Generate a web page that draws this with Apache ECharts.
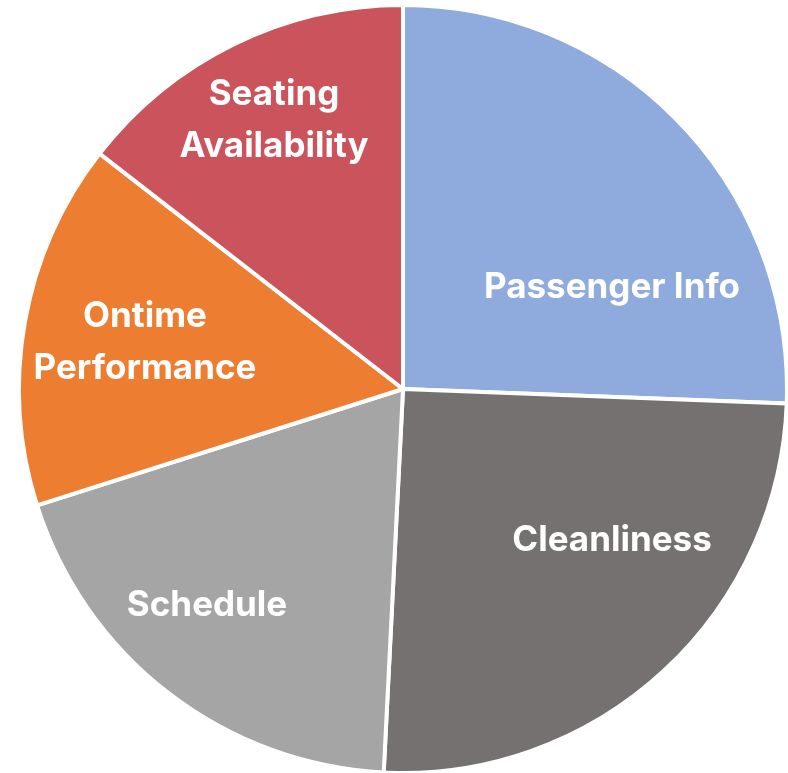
<!DOCTYPE html>
<html>
<head>
<meta charset="utf-8">
<script src="https://cdn.jsdelivr.net/npm/echarts@6/dist/echarts.min.js"></script>
<style>
  html, body { margin: 0; padding: 0; background: #fff; }
  #chart { width: 788px; height: 773px; }
</style>
</head>
<body>
<div id="chart"></div>
<script>
// slice names and shares
var categories = ['Passenger Info', 'Cleanliness', 'Schedule', 'Ontime\nPerformance', 'Seating\nAvailability'];
var values = [25.6, 25.2, 19.3, 15.4, 14.5];
var colors = ['#8FAADC', '#767171', '#A5A5A5', '#ED7D31', '#CB535C'];
// where Excel put each label (centre of the text block)
var labelSpots = [[612, 287], [612, 540], [207, 605], [145, 342], [274, 120]];

var chart = echarts.init(document.getElementById('chart'));

var pieData = [];
for (var i = 0; i < categories.length; i++) {
    pieData.push({name: categories[i], value: values[i], itemStyle: {color: colors[i]}});
}

chart.setOption({
    animation: false,
    series: [{
        type: 'pie',
        center: [403, 389],
        radius: 384,
        startAngle: 90,
        clockwise: true,
        data: pieData,
        itemStyle: {
            borderColor: '#fff',
            borderWidth: 4
        },
        label: {
            show: true,
            position: 'inside',
            color: '#fff',
            fontFamily: 'Inter',
            fontWeight: 'bold',
            fontSize: 35,
            lineHeight: 52,
            align: 'center'
        },
        labelLine: {show: false},
        labelLayout: function(params){
            var spot = labelSpots[params.dataIndex];
            return {x: spot[0], y: spot[1], align: 'center', verticalAlign: 'middle'};
        },
        emphasis: {disabled: true}
    }]
});
</script>
</body>
</html>
